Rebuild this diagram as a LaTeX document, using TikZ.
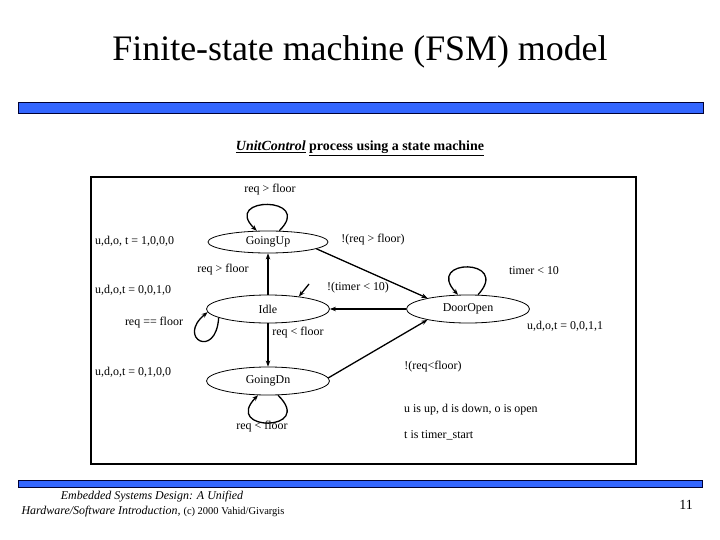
\documentclass[tikz,border=0pt]{standalone}
\usepackage{fontspec}
\setmainfont{Liberation Serif}
\usetikzlibrary{shapes.geometric,arrows.meta}
\begin{document}
\begin{tikzpicture}[x=1bp,y=-1bp,
  state/.style={ellipse,draw,line width=0.8bp,inner sep=0pt,minimum width=123bp,minimum height=28bp,font=\fontsize{12}{14}\selectfont},
  lbl/.style={inner sep=0pt,font=\fontsize{12}{14}\selectfont},
  arr/.style={line width=1.3bp,-{Stealth[length=6bp,width=4.5bp]}},
  thickarr/.style={line width=2bp,-{Stealth[length=6bp,width=4.5bp]}},
  bar/.style={draw=black!80!blue,fill=barblue,line width=0.8bp}]
\definecolor{barblue}{RGB}{51,102,255}
\useasboundingbox (0,0) rectangle (720,540);
% title
\node[inner sep=0pt,font=\fontsize{36}{40}\selectfont] (title) at (360,52) {Finite-state machine (FSM) model};
\draw[bar] (18,102) rectangle (703,113);
\node[inner sep=0pt,font=\fontsize{14}{16}\selectfont\bfseries] (sub) at (360,148) {\underline{\textit{UnitControl}} \underline{process using a state machine}};
% frame
\draw[line width=1.3bp] (91,177) rectangle (636,464);
% states
\node[state,minimum width=120bp,minimum height=22bp] (goingup) at (268,242) {GoingUp};
\node[state] (idle) at (268,309) {Idle};
\node[state] (goingdn) at (268,381) {GoingDn};
\node[state] (dooropen) at (468,309) {DoorOpen};
% transitions
\draw[thickarr] (idle.north) -- (goingup.south);
\draw[thickarr] (idle.south) -- (goingdn.north);
\draw[arr] (goingup.-8) -- (dooropen.165);
\draw[arr] (dooropen.west) -- (idle.east);
\draw[arr] (goingdn.3) -- (dooropen.195);
\coordinate (init) at (309,284);
\draw[arr] (init) -- (idle.22);
% self loops
\draw[arr] (goingup.45) .. controls (315,196) and (221,196) .. (goingup.135);
\draw[arr] (dooropen.55) .. controls (512,258) and (424,258) .. (dooropen.125);
\draw[arr] (goingdn.-55) .. controls (316,432) and (222,432) .. (goingdn.-125);
\draw[arr] (idle.190) .. controls (216,360) and (176,338) .. (idle.183);
% labels
\node[lbl] (l1) at (270,190) {req > floor};
\node[lbl,anchor=west] (l2) at (95,241) {u,d,o, t = 1,0,0,0};
\node[lbl] (l3) at (373,240) {!(req > floor)};
\node[lbl] (l4) at (223,270) {req > floor};
\node[lbl] (l5) at (534,271) {timer < 10};
\node[lbl,anchor=west] (l6) at (95,290) {u,d,o,t = 0,0,1,0};
\node[lbl] (l7) at (358,288) {!(timer < 10)};
\node[lbl] (l8) at (154,323) {req == floor};
\node[lbl] (l9) at (298,333) {req < floor};
\node[lbl,anchor=west] (l10) at (95,372) {u,d,o,t = 0,1,0,0};
\node[lbl,anchor=west] (l11) at (527,326) {u,d,o,t = 0,0,1,1};
\node[lbl] (l12) at (433,367) {!(req<floor)};
\node[lbl] (l13) at (262,427) {req < floor};
\node[lbl,anchor=west] (l14) at (404,410) {u is up, d is down, o is open};
\node[lbl,anchor=west] (l15) at (404,435) {t is timer\_start};
% footer
\draw[bar] (18,480) rectangle (702,487);
\node[inner sep=0pt,font=\fontsize{12}{14}\selectfont\itshape] (f1) at (152,497) {Embedded Systems Design: A Unified};
\node[inner sep=0pt,font=\fontsize{12}{14}\selectfont] (f2) at (153,512) {\textit{Hardware/Software Introduction,} {\fontsize{10.5}{12}\selectfont (c) 2000 Vahid/Givargis}};
\node[inner sep=0pt,font=\fontsize{14}{16}\selectfont] (pg) at (686,505) {11};
\end{tikzpicture}
\end{document}
